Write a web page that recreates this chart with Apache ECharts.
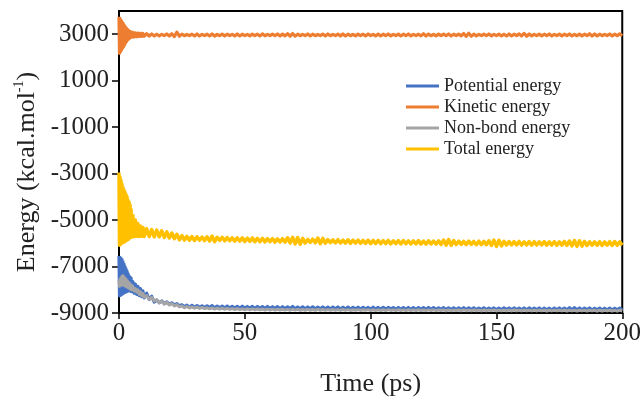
<!DOCTYPE html>
<html>
<head>
<meta charset="utf-8">
<script src="https://cdn.jsdelivr.net/npm/echarts@6.0.0/dist/echarts.min.js"></script>
<style>
  html, body { margin: 0; padding: 0; background: #fff; }
  #chart { width: 644px; height: 402px; }
</style>
</head>
<body>
<div id="chart"></div>
<script>
// Sample times (ps): finer sampling during the initial relaxation
const time = [
  0,0.2,0.4,0.6,0.8,1,1.2,1.4,1.6,1.8,
  2,2.2,2.4,2.6,2.8,3,3.2,3.4,3.6,3.8,
  4,4.2,4.4,4.6,4.8,5,5.5,6,6.5,7,
  7.5,8,8.5,9,9.5,10,11,12,13,14,
  15,16,17,18,19,20,21,22,23,24,
  25,26,27,28,29,30,31,32,33,34,
  35,36,37,38,39,40,41,42,43,44,
  45,46,47,48,49,50,51,52,53,54,
  55,56,57,58,59,60,61,62,63,64,
  65,66,67,68,69,70,71,72,73,74,
  75,76,77,78,79,80,81,82,83,84,
  85,86,87,88,89,90,91,92,93,94,
  95,96,97,98,99,100,101,102,103,104,
  105,106,107,108,109,110,111,112,113,114,
  115,116,117,118,119,120,121,122,123,124,
  125,126,127,128,129,130,131,132,133,134,
  135,136,137,138,139,140,141,142,143,144,
  145,146,147,148,149,150,151,152,153,154,
  155,156,157,158,159,160,161,162,163,164,
  165,166,167,168,169,170,171,172,173,174,
  175,176,177,178,179,180,181,182,183,184,
  185,186,187,188,189,190,191,192,193,194,
  195,196,197,198,199,200
];

// Potential energy (kcal/mol)
const potential = [
  -6550,-8260,-6600,-8240,-6650,-8200,-6700,-8180,-6800,-8150,
  -6900,-8120,-7000,-8100,-7100,-8080,-7200,-8060,-7300,-8050,
  -7400,-8040,-7450,-8050,-7500,-8080,-7650,-8150,-7750,-8200,
  -7850,-8250,-7950,-8300,-8050,-8350,-8150,-8420,-8280,-8530,
  -8440,-8560,-8480,-8600,-8520,-8630,-8560,-8660,-8600,-8690,
  -8650,-8735,-8665,-8750,-8670,-8760,-8680,-8755,-8690,-8770,
  -8695,-8770,-8680,-8785,-8700,-8775,-8705,-8785,-8700,-8790,
  -8710,-8790,-8715,-8795,-8710,-8800,-8720,-8795,-8715,-8805,
  -8720,-8800,-8725,-8810,-8715,-8805,-8730,-8810,-8725,-8815,
  -8730,-8810,-8735,-8815,-8720,-8820,-8740,-8815,-8735,-8825,
  -8740,-8815,-8735,-8825,-8745,-8820,-8740,-8830,-8745,-8825,
  -8745,-8830,-8740,-8835,-8750,-8825,-8745,-8835,-8755,-8830,
  -8750,-8835,-8755,-8830,-8760,-8840,-8750,-8835,-8760,-8840,
  -8755,-8840,-8760,-8835,-8765,-8845,-8760,-8840,-8770,-8845,
  -8760,-8845,-8770,-8850,-8765,-8840,-8770,-8850,-8760,-8845,
  -8770,-8850,-8775,-8845,-8770,-8855,-8780,-8850,-8775,-8855,
  -8780,-8855,-8770,-8860,-8780,-8850,-8775,-8860,-8785,-8855,
  -8775,-8860,-8785,-8855,-8780,-8865,-8790,-8860,-8780,-8855,
  -8785,-8865,-8780,-8860,-8790,-8865,-8785,-8870,-8780,-8860,
  -8790,-8865,-8785,-8870,-8790,-8860,-8795,-8870,-8790,-8865,
  -8785,-8870,-8790,-8865,-8775,-8870,-8770,-8865,-8785,-8870,
  -8790,-8865,-8785,-8870,-8795,-8865,-8790,-8875,-8795,-8870,
  -8790,-8870,-8795,-8865,-8790,-8875
];

// Kinetic energy (kcal/mol)
const kinetic = [
  3750,2180,3680,2250,3600,2320,3540,2400,3480,2460,
  3400,2540,3340,2620,3280,2680,3230,2740,3190,2790,
  3150,2820,3120,2850,3100,2870,3080,2880,3060,2890,
  3050,2900,3040,2905,3030,2915,3020,2925,3010,2930,
  3000,2930,2995,2940,3010,2925,3020,2900,3090,2915,
  3005,2935,2990,2940,3000,2930,3010,2925,2995,2940,
  3000,2930,3010,2920,2995,2935,3005,2930,3000,2940,
  2995,2930,3010,2925,3000,2940,2990,2930,3005,2935,
  3000,2925,3015,2930,2995,2940,3000,2935,3010,2925,
  3005,2930,3025,2915,3030,2920,3000,2935,2995,2940,
  3010,2930,3000,2935,2990,2940,3005,2925,3010,2935,
  2995,2940,3005,2930,3010,2925,3000,2935,2995,2930,
  3005,2935,3000,2930,3010,2940,2995,2930,3005,2925,
  3000,2935,3010,2930,2995,2940,3005,2925,3000,2935,
  3010,2930,2995,2940,3000,2930,3020,2920,3005,2935,
  2995,2930,3005,2940,3000,2935,3010,2925,3000,2940,
  3005,2930,3030,2910,3040,2915,3005,2930,2995,2940,
  3000,2935,3010,2930,2995,2940,3005,2930,3000,2925,
  3010,2930,3000,2935,3015,2925,3035,2915,3010,2930,
  2995,2940,3005,2930,3000,2935,3010,2925,2995,2940,
  3005,2930,3000,2940,3010,2925,2995,2935,3005,2930,
  3000,2935,3020,2920,3010,2930,3000,2935,2995,2940,
  3010,2930,3000,2935,3015,2930
];

// Non-bond energy (kcal/mol)
const nonbond = [
  -7600,-7850,-7550,-7800,-7480,-7800,-7420,-7780,-7400,-7800,
  -7450,-7820,-7500,-7850,-7550,-7870,-7600,-7900,-7650,-7920,
  -7700,-7950,-7750,-7980,-7780,-8000,-7850,-8050,-7950,-8100,
  -8000,-8200,-8080,-8260,-8150,-8320,-8250,-8420,-8330,-8480,
  -8430,-8560,-8490,-8610,-8540,-8660,-8590,-8700,-8640,-8740,
  -8700,-8770,-8720,-8785,-8740,-8795,-8750,-8805,-8760,-8810,
  -8775,-8820,-8780,-8830,-8790,-8835,-8795,-8840,-8800,-8845,
  -8810,-8850,-8815,-8855,-8820,-8860,-8820,-8865,-8825,-8860,
  -8830,-8865,-8830,-8870,-8835,-8870,-8835,-8875,-8840,-8870,
  -8840,-8875,-8845,-8880,-8840,-8875,-8845,-8880,-8850,-8880,
  -8845,-8880,-8850,-8885,-8845,-8880,-8850,-8885,-8855,-8880,
  -8850,-8885,-8855,-8890,-8850,-8885,-8855,-8890,-8860,-8885,
  -8855,-8890,-8860,-8885,-8855,-8895,-8860,-8890,-8865,-8890,
  -8860,-8895,-8855,-8890,-8865,-8895,-8860,-8890,-8865,-8900,
  -8860,-8895,-8865,-8900,-8860,-8895,-8870,-8900,-8865,-8895,
  -8865,-8900,-8870,-8895,-8865,-8905,-8870,-8900,-8875,-8895,
  -8870,-8905,-8865,-8900,-8875,-8905,-8870,-8900,-8875,-8910,
  -8870,-8905,-8875,-8900,-8870,-8910,-8880,-8905,-8875,-8900,
  -8875,-8910,-8870,-8905,-8880,-8910,-8875,-8905,-8880,-8910,
  -8875,-8910,-8880,-8905,-8875,-8915,-8880,-8910,-8885,-8905,
  -8880,-8910,-8875,-8915,-8880,-8910,-8885,-8915,-8880,-8910,
  -8885,-8915,-8880,-8910,-8885,-8920,-8880,-8915,-8885,-8910,
  -8880,-8915,-8885,-8920,-8880,-8915
];

// Total energy (kcal/mol)
const total = [
  -2950,-6080,-3150,-6050,-3300,-6000,-3450,-5980,-3600,-5950,
  -3700,-5940,-3800,-5900,-3900,-5880,-4000,-5850,-4150,-5820,
  -4220,-5780,-4350,-5750,-4550,-5730,-4800,-5710,-5000,-5700,
  -5150,-5710,-5250,-5700,-5320,-5710,-5370,-5710,-5410,-5720,
  -5430,-5720,-5460,-5750,-5510,-5770,-5560,-5800,-5610,-5850,
  -5670,-5860,-5700,-5870,-5710,-5880,-5720,-5870,-5730,-5885,
  -5720,-5900,-5690,-5930,-5740,-5880,-5740,-5895,-5750,-5890,
  -5760,-5905,-5770,-5910,-5765,-5925,-5780,-5915,-5770,-5930,
  -5790,-5935,-5785,-5940,-5800,-5930,-5795,-5950,-5805,-5945,
  -5800,-5950,-5760,-5990,-5740,-6030,-5750,-6040,-5790,-5990,
  -5830,-5965,-5820,-5980,-5770,-6020,-5790,-6000,-5840,-5975,
  -5850,-5985,-5845,-5990,-5860,-5995,-5850,-6005,-5865,-5990,
  -5860,-6005,-5870,-6000,-5865,-6015,-5875,-6010,-5870,-6020,
  -5880,-6010,-5875,-6025,-5890,-6015,-5885,-6030,-5880,-6020,
  -5890,-6030,-5895,-6025,-5885,-6035,-5900,-6040,-5890,-6030,
  -5900,-6040,-5895,-6050,-5860,-6080,-5840,-6090,-5880,-6050,
  -5910,-6045,-5915,-6055,-5905,-6050,-5920,-6060,-5910,-6055,
  -5915,-6060,-5890,-6090,-5860,-6130,-5870,-6110,-5910,-6070,
  -5925,-6065,-5930,-6070,-5920,-6075,-5935,-6070,-5925,-6080,
  -5930,-6075,-5935,-6070,-5925,-6080,-5940,-6075,-5930,-6085,
  -5935,-6080,-5920,-6090,-5900,-6110,-5880,-6130,-5890,-6120,
  -5920,-6095,-5935,-6080,-5940,-6085,-5930,-6090,-5940,-6080,
  -5930,-6090,-5925,-6085,-5935,-6080
];

const seriesNames = ['Potential energy', 'Kinetic energy', 'Non-bond energy', 'Total energy'];
const seriesColors = ['#4472C4', '#ED7D31', '#A5A5A5', '#FFC000'];
const seriesWidths = [3.2, 3.2, 3, 3.5];
const yTicks = [-9000, -7000, -5000, -3000, -1000, 1000, 3000];
const xTicks = [0, 50, 100, 150, 200];

const FONT = "'Liberation Serif', 'Times New Roman', serif";
const pairs = vals => time.map((t, i) => [t, vals[i]]);
const values = [potential, kinetic, nonbond, total];
const plain = v => String(v);

const chart = echarts.init(document.getElementById('chart'), null, { renderer: 'canvas' });
chart.setOption({
  animation: false,
  backgroundColor: '#fff',
  grid: {
    left: 119, right: 19, top: 11, bottom: 88,
    show: true, borderColor: '#000', borderWidth: 2, backgroundColor: 'transparent'
  },
  legend: {
    orient: 'vertical',
    left: 406, top: 77,
    itemWidth: 33, itemHeight: 3, itemGap: 3,
    icon: 'rect',
    padding: 0,
    textStyle: { fontFamily: FONT, fontSize: 18, color: '#222' },
    data: seriesNames
  },
  xAxis: {
    type: 'value',
    min: 0, max: 200, interval: 50,
    name: 'Time (ps)',
    nameLocation: 'middle',
    nameGap: 58,
    nameTextStyle: { fontFamily: FONT, fontSize: 26, color: '#222' },
    axisLine: { onZero: false, lineStyle: { color: '#000', width: 2 } },
    axisTick: { show: true, inside: false, length: 6, lineStyle: { color: '#000', width: 1.5 }, customValues: xTicks },
    axisLabel: { margin: 8, fontFamily: FONT, fontSize: 25, color: '#222', customValues: xTicks, formatter: plain },
    splitLine: { show: false }
  },
  yAxis: {
    type: 'value',
    min: -9000, max: 4000, interval: 1000,
    name: '{n|Energy (kcal.mol}{s|-1}{n|)}',
    nameLocation: 'middle',
    nameGap: 74,
    nameRotate: 90,
    nameTextStyle: {
      padding: [0, 20, 0, 0],
      rich: {
        n: { fontFamily: FONT, fontSize: 26, color: '#222', lineHeight: 28 },
        s: { fontFamily: FONT, fontSize: 14, color: '#222', lineHeight: 28, verticalAlign: 'top' }
      }
    },
    axisLine: { onZero: false, lineStyle: { color: '#000', width: 2 } },
    axisTick: { show: true, inside: false, length: 7, lineStyle: { color: '#000', width: 1.5 }, customValues: yTicks },
    axisLabel: { margin: 10, fontFamily: FONT, fontSize: 25, color: '#222', customValues: yTicks, formatter: plain },
    splitLine: { show: false }
  },
  series: seriesNames.map((name, k) => ({
    name,
    type: 'line',
    data: pairs(values[k]),
    showSymbol: false,
    symbol: 'none',
    clip: true,
    color: seriesColors[k],
    lineStyle: { color: seriesColors[k], width: seriesWidths[k], join: 'round' },
    emphasis: { disabled: true }
  }))
});
</script>
</body>
</html>
